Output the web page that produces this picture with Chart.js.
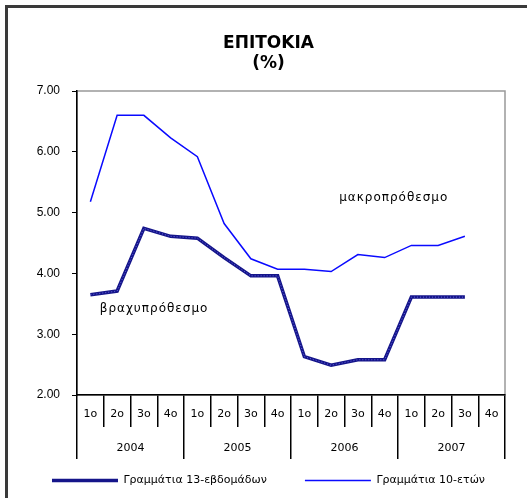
<!DOCTYPE html>
<html>
<head>
<meta charset="utf-8">
<script src="https://cdn.jsdelivr.net/npm/chart.js@4"></script>
<style>
  html, body { margin: 0; padding: 0; background: #fff; }
  #wrap { position: relative; width: 527px; height: 498px; }
  #frame { position: absolute; left: 5px; top: 5px; width: 600px; height: 600px;
           border-left: 3px solid #3a3a3a; border-top: 3px solid #3a3a3a; box-sizing: border-box; pointer-events: none; }
</style>
</head>
<body>
<div id="wrap">
  <canvas id="ratesChart" width="527" height="498"></canvas>
  <div id="frame"></div>
</div>
<script>
// quarters and years
const quarters = ['1ο','2ο','3ο','4ο','1ο','2ο','3ο','4ο','1ο','2ο','3ο','4ο','1ο','2ο','3ο','4ο']
const years = ['2004', '2005', '2006', '2007']

// 13-week bills (short term)
const bills13w = [3.65, 3.71, 4.74, 4.61, 4.58, 4.26, 3.96, 3.96, 2.63, 2.49, 2.58, 2.58, 3.61, 3.61, 3.61, null]
// 10-year bonds (long term)
const bonds10y = [5.18, 6.60, 6.60, 6.23, 5.92, 4.82, 4.24, 4.07, 4.07, 4.03, 4.31, 4.26, 4.46, 4.46, 4.61, null]

const yTicks = [2, 3, 4, 5, 6, 7]

// text notes placed in data coordinates
const notes = [
  { text: 'μακροπρόθεσμο', x: 9.3, y: 5.24 },
  { text: 'βραχυπρόθεσμο', x: 0.35, y: 3.41 }
]

const NAVY = '#15158a'
const BLUE = '#0a0aff'

// gray frame round the plot area (top/right), axes draw over it
const plotFrame = {
  id: 'plotFrame',
  beforeDraw(chart) {
    const { ctx, chartArea: a } = chart
    ctx.save()
    ctx.strokeStyle = '#999'
    ctx.lineWidth = 1.5
    ctx.strokeRect(a.left, a.top, a.right - a.left, a.bottom - a.top)
    ctx.restore()
  }
}

const noteLabels = {
  id: 'noteLabels',
  afterDatasetsDraw(chart) {
    const { ctx, scales } = chart
    ctx.save()
    ctx.fillStyle = '#000'
    ctx.font = '12px "DejaVu Sans"'
    ctx.letterSpacing = '1px'
    ctx.textBaseline = 'middle'
    notes.forEach((n) => {
      const x = scales.x.getPixelForValue(n.x)
      const y = scales.y.getPixelForValue(n.y)
      ctx.fillText(n.text, x, y)
    })
    ctx.restore()
  }
}

new Chart(document.getElementById('ratesChart'), {
  type: 'line',
  data: {
    labels: quarters,
    datasets: [{
      label: 'Γραμμάτια 13-εβδομάδων',
      data: bills13w,
      borderColor: NAVY,
      backgroundColor: NAVY,
      borderWidth: 3.5,
      pointRadius: 0,
      tension: 0
    }, {
      label: 'Γραμμάτια 10-ετών',
      data: bonds10y,
      borderColor: BLUE,
      backgroundColor: BLUE,
      borderWidth: 1.5,
      pointRadius: 0,
      tension: 0
    }, {
      // wavy texture on top of the short-term line
      label: '_texture',
      data: bills13w,
      order: -1,
      borderColor: 'rgba(110,110,235,0.9)',
      borderWidth: 1,
      borderDash: [1, 2],
      pointRadius: 0,
      tension: 0
    }]
  },
  options: {
    responsive: false,
    animation: false,
    layout: { padding: { top: 34, left: 32, right: 22, bottom: 2 } },
    plugins: {
      title: {
        display: true,
        text: ['ΕΠΙΤΟΚΙΑ', '(%)'],
        color: '#000',
        font: { family: '"DejaVu Sans"', size: 17, weight: 'bold', lineHeight: '20px' },
        padding: { top: 0, bottom: 17 }
      },
      legend: {
        position: 'bottom',
        labels: {
          usePointStyle: true,
          pointStyle: 'line',
          pointStyleWidth: 66,
          color: '#000',
          padding: 16,
          font: { family: '"DejaVu Sans"', size: 11 },
          filter: (item) => !item.text.startsWith('_'),
          generateLabels: (chart) => Chart.defaults.plugins.legend.labels.generateLabels(chart)
            .map((item) => item.datasetIndex === 0 ? { ...item, text: item.text + '\u2003\u2003' } : item)
        }
      },
      tooltip: { enabled: false }
    },
    scales: {
      x: {
        offset: true,
        grid: { offset: true, drawOnChartArea: false, color: '#000', lineWidth: 1.5, tickLength: 32 },
        border: { color: '#000', width: 1.5 },
        ticks: { color: '#000', padding: -19, maxRotation: 0, autoSkip: false,
                 font: { family: '"DejaVu Sans"', size: 11 } },
        afterFit: (scale) => { scale.height = 32 }
      },
      x2: {
        type: 'category',
        labels: years,
        position: 'bottom',
        offset: true,
        grid: { offset: true, drawOnChartArea: false, color: '#000', lineWidth: 1.5, tickLength: 32 },
        border: { display: false },
        ticks: { color: '#000', padding: -17, maxRotation: 0,
                 font: { family: '"DejaVu Sans"', size: 11 } },
        afterFit: (scale) => { scale.height = 32 }
      },
      y: {
        min: 2,
        max: 7,
        afterBuildTicks: (scale) => { scale.ticks = yTicks.map((v) => ({ value: v })) },
        grid: { drawOnChartArea: false, color: '#000', tickLength: 5 },
        border: { color: '#000', width: 1.5 },
        ticks: { color: '#000', padding: 12, callback: (v) => v.toFixed(2),
                 font: { family: '"Liberation Sans", Arial', size: 12 } },
        afterFit: (scale) => { scale.width = 45 }
      }
    }
  },
  plugins: [plotFrame, noteLabels]
})
</script>
</body>
</html>
